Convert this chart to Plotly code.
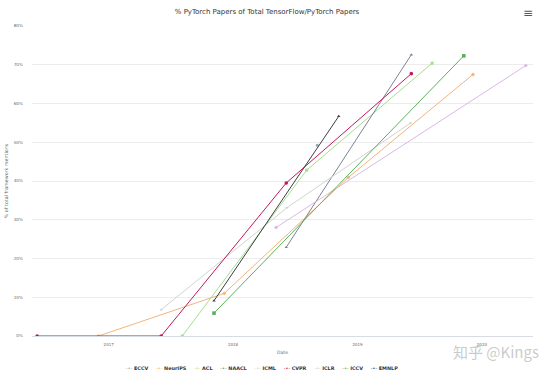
import plotly.graph_objects as go

# ---- data ----
series_names = ["ECCV", "NeurIPS", "ACL", "NAACL", "ICML", "CVPR", "ICLR", "ICCV", "EMNLP"]

eccv_dates = ["2018-09-05"]
eccv_vals = [49.2]

neurips_dates = ["2016-12-02", "2017-12-06", "2018-12-05", "2019-12-06"]
neurips_vals = [0.0, 11.0, 40.9, 67.5]

acl_dates = ["2017-08-05", "2018-08-05", "2019-08-08"]
acl_vals = [0.0, 42.8, 70.4]

naacl_dates = ["2018-06-06", "2019-06-08"]
naacl_vals = [22.9, 72.6]

icml_dates = ["2017-06-04", "2018-06-08", "2019-06-06"]
icml_vals = [6.8, 33.1, 55.0]

cvpr_dates = ["2016-06-05", "2017-06-04", "2018-06-06", "2019-06-08"]
cvpr_vals = [0.0, 0.0, 39.5, 67.7]

iclr_dates = ["2018-05-07", "2020-05-09"]
iclr_vals = [28.0, 69.8]

iccv_dates = ["2017-11-06", "2019-11-09"]
iccv_vals = [5.9, 72.3]

emnlp_dates = ["2017-11-06", "2018-11-07"]
emnlp_vals = [9.1, 56.7]

y_tick_vals = [0, 10, 20, 30, 40, 50, 60, 70, 80]
y_tick_text = ["0%", "10%", "20%", "30%", "40%", "50%", "60%", "70%", "80%"]
x_tick_vals = ["2017-01-01", "2018-01-01", "2019-01-01", "2020-01-01"]
x_tick_text = ["2017", "2018", "2019", "2020"]

# ---- styles ----
colors = ["#93a7bd", "#f2b47c", "#a3e08a", "#7f8296", "#cdd6d1",
          "#c2185b", "#dcb8e6", "#5cb05a", "#3d3d45"]
symbols = ["circle", "diamond", "square", "triangle-up", "triangle-down",
           "circle", "diamond", "square", "triangle-up"]
sizes = [3, 3, 3, 3, 3, 3.6, 3, 3.6, 3]

all_dates = [eccv_dates, neurips_dates, acl_dates, naacl_dates, icml_dates,
             cvpr_dates, iclr_dates, iccv_dates, emnlp_dates]
all_vals = [eccv_vals, neurips_vals, acl_vals, naacl_vals, icml_vals,
            cvpr_vals, iclr_vals, iccv_vals, emnlp_vals]

FONT = "DejaVu Sans"
PLOT_L, PLOT_W, PLOT_H = 32, 501, 310.5

fig = go.Figure()
for name, d, v, c, s, sz in zip(series_names, all_dates, all_vals, colors, symbols, sizes):
    fig.add_trace(go.Scatter(
        x=d, y=v, name=name, mode="lines+markers",
        line=dict(color=c, width=1),
        marker=dict(color=c, symbol=s, size=sz, line=dict(width=0)),
        showlegend=False,
    ))

# legend drawn as one centred line of text
nb = "\u00a0"
legend_parts = []
for name, c in zip(series_names, colors):
    legend_parts.append(f"<span style='color:{c}'>-•-</span>{nb}<b>{name}</b>")
legend_text = (nb * 5).join(legend_parts)

fig.update_layout(
    width=554, height=373,
    margin=dict(l=32, r=21, t=25.5, b=37, autoexpand=False),
    paper_bgcolor="white", plot_bgcolor="white",
    font=dict(family=FONT, color="#666666", size=4),
    title=dict(text="% PyTorch Papers of Total TensorFlow/PyTorch Papers",
               x=267 / 554, xanchor="center", y=1 - 11.5 / 373, yanchor="middle",
               font=dict(family=FONT, size=7, color="#333333")),
    xaxis=dict(
        type="date", automargin=False,
        range=["2016-05-21", "2020-05-30"],
        tickvals=x_tick_vals, ticktext=x_tick_text,
        showgrid=False, zeroline=False,
        showline=False, ticks="",
        ticklabelstandoff=5,
        tickfont=dict(size=4, color="#666666"),
        title=dict(text="Date", font=dict(size=4.6, color="#666666"), standoff=4),
    ),
    yaxis=dict(
        range=[0, 80], automargin=False,
        tickvals=y_tick_vals, ticktext=y_tick_text,
        showgrid=True, gridcolor="#ececec", gridwidth=1,
        zeroline=True, zerolinecolor="#d6dbe6", zerolinewidth=1,
        ticks="", ticklabelstandoff=8,
        tickfont=dict(size=4.2, color="#666666"),
        title=dict(text="% of total framework mentions",
                   font=dict(size=4.8, color="#666666"), standoff=5),
    ),
    annotations=[
        dict(text=legend_text, xref="paper", yref="paper",
             x=(261.5 - PLOT_L) / PLOT_W, xanchor="center", y=-32 / PLOT_H, yanchor="middle",
             showarrow=False, font=dict(size=4.9, color="#333333", family=FONT)),
        dict(text="≡", xref="paper", yref="paper",
             x=(528 - PLOT_L) / PLOT_W, xanchor="center", y=1 + 13.5 / PLOT_H, yanchor="middle",
             showarrow=False, font=dict(size=12, color="#555555", family=FONT)),
        dict(text="知乎 @Kings", xref="paper", yref="paper",
             x=(541 - PLOT_L) / PLOT_W, xanchor="right", y=-16 / PLOT_H, yanchor="middle",
             showarrow=False,
             font=dict(size=15, color="rgba(150,150,150,0.5)", family="Noto Sans CJK SC")),
    ],
)

fig.write_html("out.html")
